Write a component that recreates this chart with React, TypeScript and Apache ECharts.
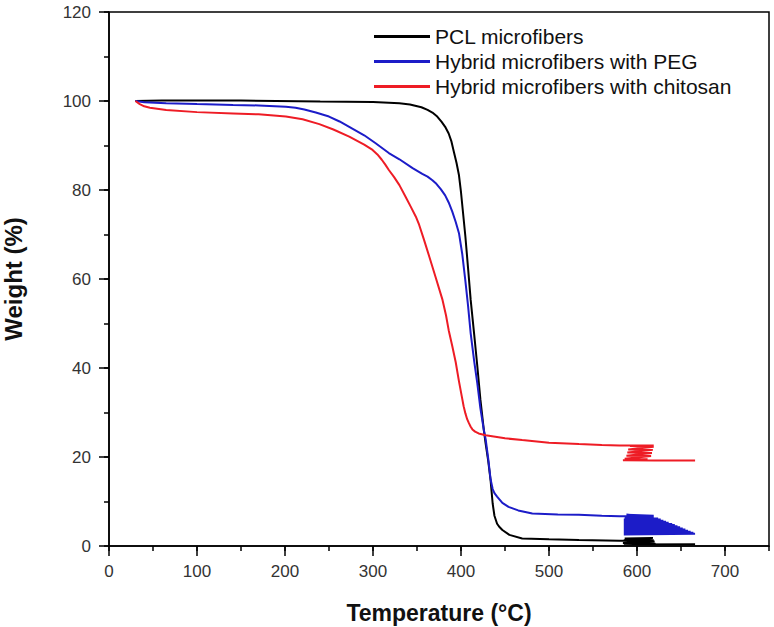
import React, { useEffect, useRef } from "react";
import * as echarts from "echarts";

const seriesNames = [
  "PCL microfibers",
  "Hybrid microfibers with PEG",
  "Hybrid microfibers with chitosan",
];
const seriesColors = ["#000000", "#1c1cc8", "#ee1c25"];

const xTitle = "Temperature (°C)";
const yTitle = "Weight (%)";

// [temperature, weight]
const pclData = [
  [30, 100], [60, 100.1], [150, 100.1], [240, 99.9], [300, 99.8], [330, 99.5],
  [342, 99.2], [355, 98.6], [362, 98.0], [367.5, 97.4], [373, 96.5], [378, 95.3],
  [382, 94.2], [386, 92.7], [389, 91], [392, 88.5], [395, 86], [397.7, 83.3],
  [400, 79.5], [402, 75.5], [405, 69.5], [408, 62.5], [411, 55.3], [415, 47.5],
  [418.5, 40.5], [422, 33], [426, 26], [428, 23], [431, 19], [433.6, 14.8],
  [436, 9.5], [438, 6.8], [441, 5.0], [444, 4.2], [447, 3.6], [455, 2.5],
  [469.5, 1.7], [500, 1.5], [534, 1.35], [580, 1.2], [619, 1.3], [586, 1.7],
  [618, 1.8], [585, 1.3], [620, 1.0], [584, 0.7], [621, 0.5], [585, 0.35],
  [666, 0.4],
];

const pegData = [
  [30, 100], [40, 99.7], [65, 99.5], [100, 99.3], [141, 99.1], [170, 99.0],
  [201, 98.7], [212, 98.5], [222, 98.1], [235, 97.4], [250, 96.5], [262, 95.4],
  [273, 94.2], [290, 92.3], [303, 90.5], [318, 88.3], [330, 86.9], [345, 84.9],
  [356, 83.6], [362, 83.0], [367.5, 82.2], [372, 81.4], [377, 80.2], [382, 78.8],
  [386, 77.2], [390, 75.2], [394, 72.8], [397.7, 70.3], [401.5, 65.5], [405, 59.5],
  [408, 54], [411, 47.8], [415, 41.5], [418.5, 36.6], [422, 31], [426, 26],
  [428, 24], [431, 19.5], [433.6, 15], [436, 12.8], [438, 11.9], [441, 11.1],
  [447, 9.7], [454, 8.8], [465, 8.0], [481, 7.3], [510, 7.1], [534, 7.0],
  [560, 6.8], [580, 6.7], [619, 6.8], [588, 7.0], [619, 6.6], [586, 6.4],
  [624, 6.2], [585, 5.95], [627, 5.95], [585, 5.7], [630, 5.7], [585, 5.45],
  [633, 5.45], [585, 5.2], [636, 5.2], [585, 4.95], [640, 4.95], [585, 4.7],
  [643, 4.7], [585, 4.45], [646, 4.45], [585, 4.2], [649, 4.2], [585, 3.95],
  [652, 3.95], [585, 3.7], [655, 3.7], [585, 3.45], [658, 3.45], [585, 3.2],
  [661, 3.2], [585, 2.95], [664, 2.95], [585, 2.6], [666, 2.75],
];

const chitosanData = [
  [30, 100], [35, 99.3], [40, 98.8], [46.5, 98.5], [65, 98.0], [100, 97.5],
  [141, 97.2], [170, 97.0], [201, 96.5], [220, 95.9], [239, 94.8], [255, 93.6],
  [273, 92.0], [290, 90.2], [299.5, 89.0], [305, 88.0], [310, 86.8], [314, 85.7],
  [318, 84.5], [324, 82.9], [330, 81.1], [337, 78.5], [343, 76.2], [348.7, 74],
  [352.4, 72.2], [358, 68.8], [364, 65], [371, 60.5], [379, 55.3], [383, 51.8],
  [386, 48.5], [390, 45], [394, 41.3], [397.7, 37], [401, 33.5], [403, 31.4],
  [405, 29.8], [407, 28.5], [409, 27.6], [411, 26.8], [413, 26.2], [416, 25.7],
  [420, 25.3], [428, 24.9], [450, 24.2], [469.5, 23.8], [500, 23.2], [534, 22.9],
  [560, 22.7], [580, 22.6], [619, 22.6], [592, 22.45], [619, 22.3], [590, 21.7],
  [618, 21.6], [589, 21.0], [617, 20.9], [588, 20.3], [616, 20.2], [586, 19.6],
  [612, 19.5], [584, 19.25], [620, 19.2], [666, 19.2],
];

const allData = [pclData, pegData, chitosanData];

const font = "'Liberation Sans', Arial, sans-serif";

export default function App() {
  const ref = useRef<HTMLDivElement>(null);

  useEffect(() => {
    document.body.style.margin = "0";
    const chart = echarts.init(ref.current as HTMLDivElement, null, { renderer: "svg" });
    const axisLineStyle = { color: "#000", width: 1.5 };
    chart.setOption({
      animation: false,
      backgroundColor: "#fff",
      grid: {
        left: 109,
        right: 5,
        top: 12,
        bottom: 81,
        containLabel: false,
        outerBoundsMode: "none",
        show: true,
        borderColor: "#000",
        borderWidth: 1.5,
        backgroundColor: "transparent",
      },
      legend: {
        orient: "vertical",
        left: 374,
        top: 26,
        padding: 0,
        icon: "rect",
        itemWidth: 56,
        itemHeight: 3,
        itemGap: 4,
        data: seriesNames,
        textStyle: { fontSize: 21, color: "#111", fontFamily: font },
      },
      xAxis: [
        {
          type: "value",
          min: 0,
          max: 750,
          interval: 100,
          position: "bottom",
          name: xTitle,
          nameLocation: "middle",
          nameGap: 55,
          nameTextStyle: { fontSize: 23, fontWeight: "bold", color: "#111", fontFamily: font },
          axisLine: { show: true, onZero: false, lineStyle: axisLineStyle },
          axisTick: { show: true, inside: false, length: 10, lineStyle: axisLineStyle },
          axisLabel: { margin: 17, fontSize: 17, color: "#333", fontFamily: font, showMaxLabel: false },
          splitLine: { show: false },
        },
        {
          type: "value",
          min: 0,
          max: 750,
          interval: 50,
          position: "bottom",
          axisLine: { show: false, onZero: false },
          axisTick: { show: true, inside: false, length: 5, lineStyle: axisLineStyle },
          axisLabel: { show: false },
          splitLine: { show: false },
        },
      ],
      yAxis: [
        {
          type: "value",
          min: 0,
          max: 120,
          interval: 20,
          position: "left",
          name: yTitle,
          nameLocation: "middle",
          nameGap: 84,
          nameTextStyle: { fontSize: 24, fontWeight: "bold", color: "#111", fontFamily: font },
          axisLine: { show: true, onZero: false, lineStyle: axisLineStyle },
          axisTick: { show: true, inside: false, length: 10, lineStyle: axisLineStyle },
          axisLabel: { margin: 18, fontSize: 17, color: "#333", fontFamily: font },
          splitLine: { show: false },
        },
        {
          type: "value",
          min: 0,
          max: 120,
          interval: 10,
          position: "left",
          axisLine: { show: false, onZero: false },
          axisTick: { show: true, inside: false, length: 5, lineStyle: axisLineStyle },
          axisLabel: { show: false },
          splitLine: { show: false },
        },
      ],
      series: seriesNames.map((name, i) => ({
        name,
        type: "line",
        xAxisIndex: 0,
        yAxisIndex: 0,
        data: allData[i],
        showSymbol: false,
        symbol: "none",
        smooth: false,
        color: seriesColors[i],
        itemStyle: { color: seriesColors[i] },
        lineStyle: { width: 2, color: seriesColors[i] },
      })),
    });
    return () => chart.dispose();
  }, []);

  return <div ref={ref} style={{ width: 774, height: 627 }} />;
}
